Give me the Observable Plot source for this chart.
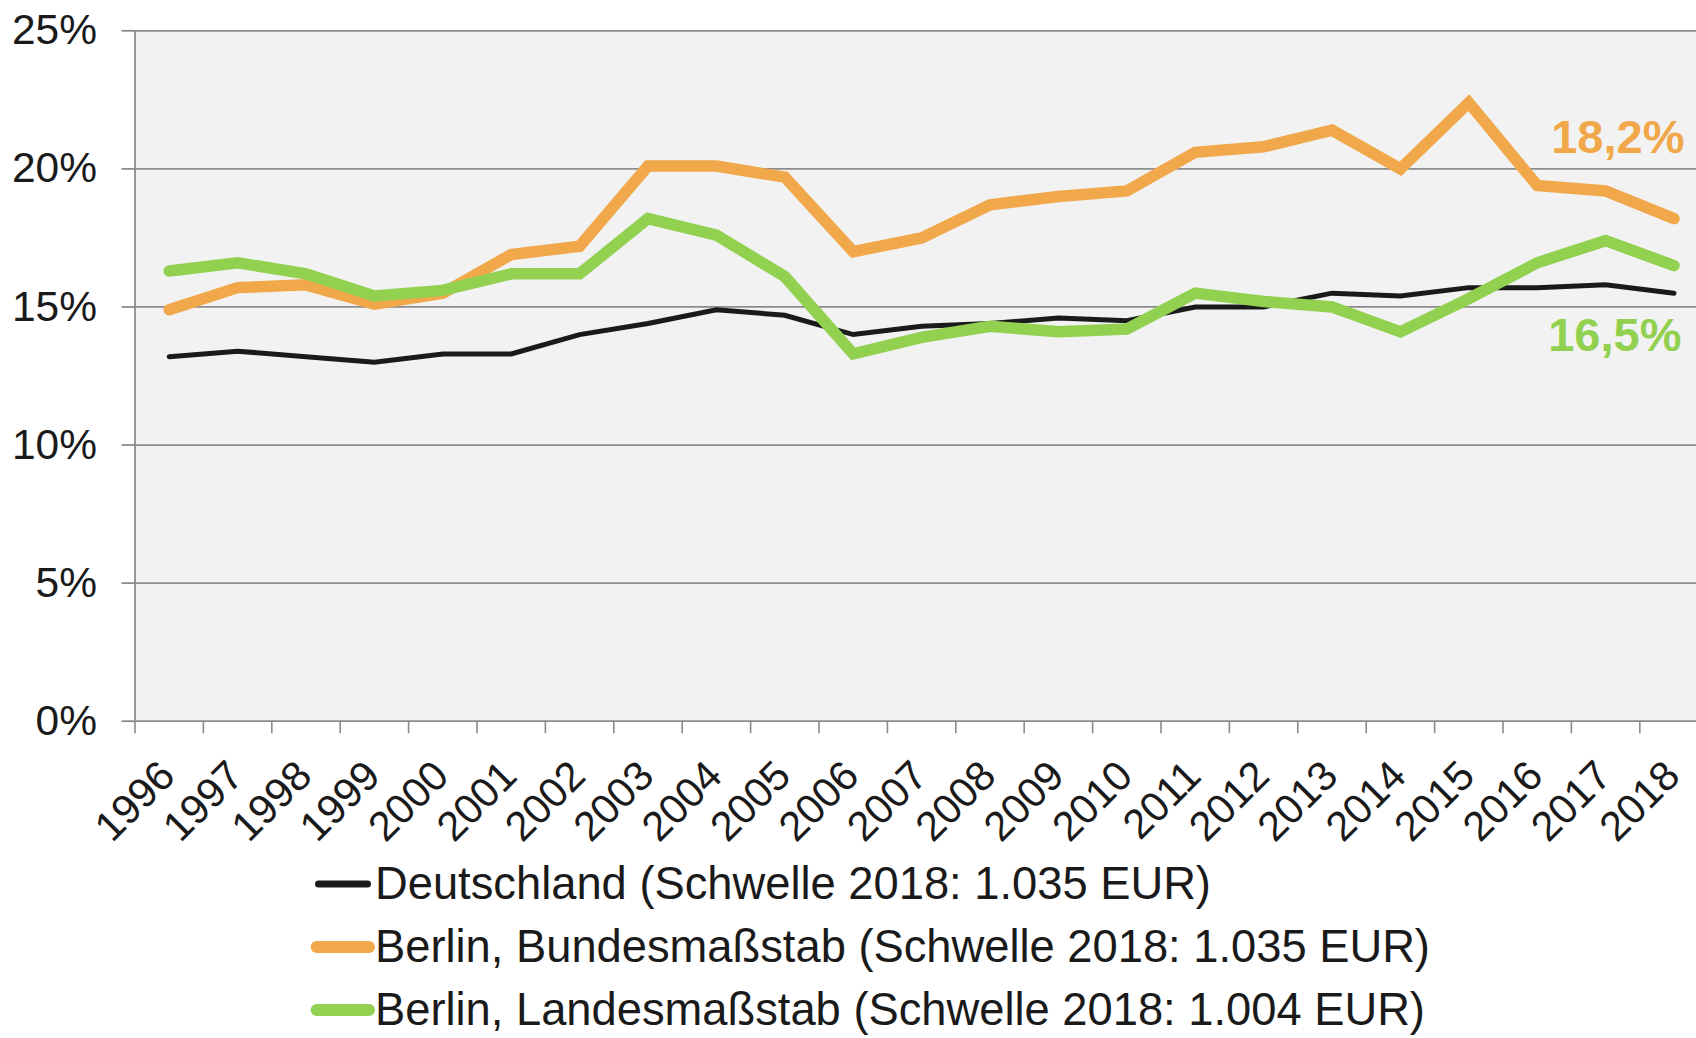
<!DOCTYPE html>
<html>
<head>
<meta charset="utf-8">
<script src="https://cdn.jsdelivr.net/npm/d3@7"></script>
<script src="https://cdn.jsdelivr.net/npm/@observablehq/plot@0.6"></script>
<style>
  html, body { margin: 0; padding: 0; background: #fff; overflow: hidden; }
  body { width: 1696px; height: 1038px; font-family: "Liberation Sans", Arial, sans-serif; color: #1a1a1a; }
  #legend { position: relative; margin-top: 2px; }
  .row { display: flex; align-items: center; height: 63px; margin-left: 310px; }
  .row svg { display: block; }
  .row span { font-size: 45.3px; line-height: 63px; white-space: pre; margin-left: -1px; }
</style>
</head>
<body>
<div id="chart"></div>
<div id="legend"></div>
<script>
// ---- data ----
const years = [1996, 1997, 1998, 1999, 2000, 2001, 2002, 2003, 2004, 2005, 2006, 2007,
               2008, 2009, 2010, 2011, 2012, 2013, 2014, 2015, 2016, 2017, 2018];
const deutschland = [13.2, 13.4, 13.2, 13.0, 13.3, 13.3, 14.0, 14.4, 14.9, 14.7, 14.0, 14.3,
                     14.4, 14.6, 14.5, 15.0, 15.0, 15.5, 15.4, 15.7, 15.7, 15.8, 15.5];
const berlinBund = [14.9, 15.7, 15.8, 15.1, 15.5, 16.9, 17.2, 20.1, 20.1, 19.7, 17.0, 17.5,
                    18.7, 19.0, 19.2, 20.6, 20.8, 21.4, 20.0, 22.4, 19.4, 19.2, 18.2];
const berlinLand = [16.3, 16.6, 16.2, 15.4, 15.6, 16.2, 16.2, 18.2, 17.6, 16.1, 13.3, 13.9,
                    14.3, 14.1, 14.2, 15.5, 15.2, 15.0, 14.1, 15.3, 16.6, 17.4, 16.5];
const seriesNames = [
  "Deutschland (Schwelle 2018: 1.035 EUR)",
  "Berlin, Bundesmaßstab (Schwelle 2018: 1.035 EUR)",
  "Berlin, Landesmaßstab (Schwelle 2018: 1.004 EUR)"
];
const seriesColors = ["#1a1a1a", "#F0A84B", "#92D050"];
const seriesWidths = [5, 11.5, 11.5];
const yTicks = [0, 5, 10, 15, 20, 25];

// ---- tables ----
const seriesValues = [deutschland, berlinBund, berlinLand];
const tables = seriesValues.map((vals, s) => years.map((year, i) => ({year, value: vals[i], series: seriesNames[s]})));
const boundaries = [...years.map(y => y - 0.5), years[years.length - 1] + 0.5];
const fmt = v => v.toFixed(1).replace(".", ",") + "%";

const gridColor = "#8c8c8c";
const W = 1696, H = 850;

const chart = Plot.plot({
  width: W,
  height: H,
  marginLeft: 134.5,
  marginRight: 0,
  marginTop: 30.3,
  marginBottom: H - 720.7,
  style: {fontFamily: "'Liberation Sans', Arial, sans-serif", color: "#1a1a1a", background: "#fff", overflow: "hidden"},
  x: {type: "linear", domain: [boundaries[0], boundaries[boundaries.length - 1]], range: [134.5, 1707.7]},
  y: {domain: [0, 25]},
  marks: [
    Plot.frame({fill: "#F2F2F2", stroke: null}),
    Plot.gridY(yTicks, {stroke: gridColor, strokeOpacity: 1, strokeWidth: 1.8}),
    Plot.ruleX([boundaries[0]], {stroke: gridColor, strokeWidth: 1.8}),
    Plot.axisX(boundaries, {tickSize: 12.5, tickFormat: () => "", stroke: gridColor, strokeWidth: 1.6, label: null}),
    ...tables.map((t, s) => Plot.line(t, {
      x: "year", y: "value",
      stroke: seriesColors[s], strokeWidth: seriesWidths[s],
      strokeLinejoin: "miter", strokeMiterlimit: 10, strokeLinecap: "round"
    })),
    Plot.text([tables[1][tables[1].length - 1]], {
      x: "year", y: "value", text: d => fmt(d.value),
      textAnchor: "end", lineAnchor: "bottom", dx: 10.5, dy: -66,
      fill: seriesColors[1], fontSize: 47, fontWeight: "bold"
    }),
    Plot.text([tables[2][tables[2].length - 1]], {
      x: "year", y: "value", text: d => fmt(d.value),
      textAnchor: "end", lineAnchor: "bottom", dx: 7.5, dy: 85,
      fill: seriesColors[2], fontSize: 47, fontWeight: "bold"
    }),
    Plot.axisY(yTicks, {
      tickSize: 13, tickPadding: 25, tickFormat: d => d + "%",
      stroke: gridColor, strokeWidth: 1.8, fill: "#1a1a1a", fontSize: 42.5, label: null
    }),
    Plot.axisX(years, {
      tickSize: 0, tickPadding: 0, tickRotate: -45, tickFormat: d => String(d),
      textAnchor: "end", lineAnchor: "bottom", dx: 8, dy: 57,
      fill: "#1a1a1a", fontSize: 41.5, label: null
    })
  ]
});
document.getElementById("chart").appendChild(chart);

// ---- legend ----
const legend = document.getElementById("legend");
seriesNames.forEach((name, s) => {
  const row = document.createElement("div");
  row.className = "row";
  const sw = seriesWidths[s] > 6 ? 12 : 7;
  row.innerHTML = `<svg width="66" height="20"><line x1="${s === 0 ? 8.5 : 6.7}" x2="${s === 0 ? 57.5 : 59}" y1="10" y2="10" stroke="${seriesColors[s]}" stroke-width="${sw}" stroke-linecap="round"/></svg><span>${name}</span>`;
  legend.appendChild(row);
});
</script>
</body>
</html>
